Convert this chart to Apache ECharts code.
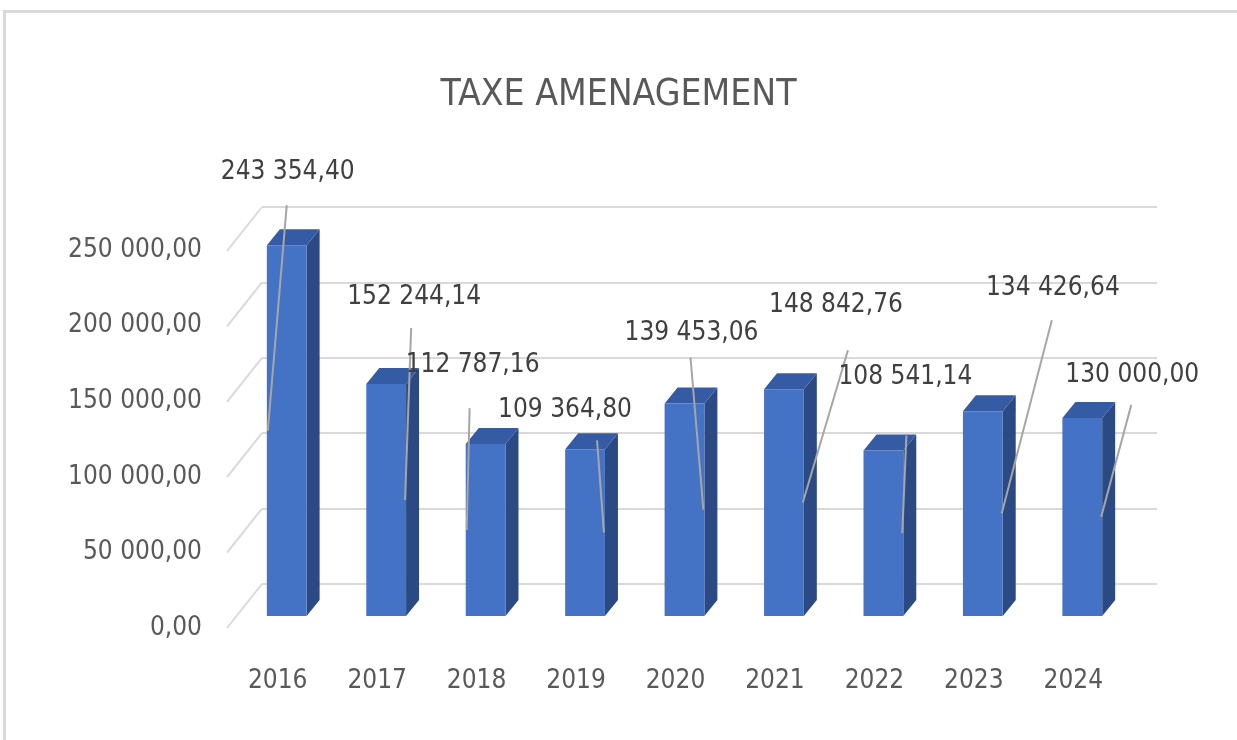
<!DOCTYPE html>
<html>
<head>
<meta charset="utf-8">
<title>TAXE AMENAGEMENT</title>
<script src="https://cdn.jsdelivr.net/npm/echarts@6/dist/echarts.min.js"></script>
<style>
    html, body { margin: 0; padding: 0; background: #fff; }
    #chart { width: 1237px; height: 740px; }
</style>
</head>
<body>
<div id="chart"></div>
<script>
    const years = ['2016', '2017', '2018', '2019', '2020', '2021', '2022', '2023', '2024'];
    const amounts = [243354.40, 152244.14, 112787.16, 109364.80, 139453.06, 148842.76, 108541.14, 134426.64, 130000.00];
    const yTicks = [0, 50000, 100000, 150000, 200000, 250000];

    // placement des étiquettes, en px depuis le haut de la face avant de la barre
    const labelShift = [[1, -73], [28, -87], [-13, -79], [-20, -39], [7, -70], [52, -84], [22, -73], [70, -123], [50, -43]];
    const leaderStart = [[0, -40], [25, -56], [-16, -36], [12, -9], [6, -46], [64, -39], [23, -15], [69, -91], [49, -13]];
    const leaderSide = [-1, 1, -1, 1, 1, 1, 1, 1, 1];

    const font = '"Liberation Sans Narrow", "DejaVu Sans Condensed", "Roboto Condensed", sans-serif';
    const depth = [13, -16];      // profondeur des barres
    const wallShift = [35, -44];  // du plan des libellés vers le fond

    function fmt(v) {
        const parts = Number(v).toFixed(2).split('.');
        return parts[0].replace(/\B(?=(\d{3})+(?!\d))/g, ' ') + ',' + parts[1];
    }

    const chartDom = document.getElementById('chart');
    const myChart = echarts.init(chartDom);

    function renderBar(params, api) {
        const i = api.value(0);
        const top = api.coord([i, api.value(1)]);
        const base = api.coord([i, 0]);
        const w = api.size([1, 0])[0] * 0.4;
        const x0 = top[0] - w / 2;
        const x1 = top[0] + w / 2;
        const dx = depth[0], dy = depth[1];
        return {
            type: 'group',
            children: [
                {
                    type: 'polygon',
                    shape: { points: [[x1, top[1]], [x1 + dx, top[1] + dy], [x1 + dx, base[1] + dy], [x1, base[1]]] },
                    style: { fill: '#2b4a83' }
                },
                {
                    type: 'polygon',
                    shape: { points: [[x0, top[1]], [x0 + dx, top[1] + dy], [x1 + dx, top[1] + dy], [x1, top[1]]] },
                    style: { fill: '#355ba4' }
                },
                {
                    type: 'rect',
                    shape: { x: x0, y: top[1], width: w, height: base[1] - top[1] },
                    style: { fill: '#4472c4' }
                }
            ]
        };
    }

    function renderLabel(params, api) {
        const i = api.value(0);
        const v = api.value(1);
        const top = api.coord([i, v]);
        const mid = api.coord([i, v / 2]);
        const w = api.size([1, 0])[0] * 0.4;
        const endX = mid[0] + leaderSide[i] * (w / 2 - 1);
        return {
            type: 'group',
            children: [
                {
                    type: 'line',
                    shape: {
                        x1: top[0] + leaderStart[i][0], y1: top[1] + leaderStart[i][1],
                        x2: endX, y2: mid[1]
                    },
                    style: { stroke: '#a6a6a6', lineWidth: 2 }
                },
                {
                    type: 'text',
                    style: {
                        text: fmt(v),
                        x: top[0] + labelShift[i][0],
                        y: top[1] + labelShift[i][1],
                        textAlign: 'center',
                        textVerticalAlign: 'middle',
                        fontSize: 26,
                        fontFamily: font,
                        fill: '#404040'
                    }
                }
            ]
        };
    }

    function renderWallEdge(params, api) {
        const p = api.coord([0, api.value(1)]);
        const x = params.coordSys.x;
        return {
            type: 'line',
            shape: { x1: x, y1: p[1], x2: x - wallShift[0], y2: p[1] - wallShift[1] },
            style: { stroke: '#d9d9d9', lineWidth: 2 }
        };
    }

    const barData = amounts.map((v, i) => [i, v]);

    let option = {
        animation: false,
        title: {
            text: 'TAXE AMENAGEMENT',
            left: 'center',
            top: 72,
            textStyle: {
                fontFamily: font,
                fontSize: 37,
                fontWeight: 'normal',
                color: '#595959'
            }
        },
        graphic: [
            {
                type: 'rect',
                shape: { x: 4.5, y: 11.5, width: 1400, height: 900 },
                style: { fill: 'none', stroke: '#d9d9d9', lineWidth: 3 },
                silent: true
            }
        ],
        grid: [
            // plan des barres
            { left: 237, top: 235, width: 895, height: 381 },
            // plan des libellés d'axes
            { left: 228, top: 250, width: 895, height: 378 },
            // paroi du fond
            { left: 262, top: 207, width: 895, height: 377 }
        ],
        xAxis: [
            { gridIndex: 0, type: 'category', data: years, show: false },
            {
                gridIndex: 1,
                type: 'category',
                data: years,
                axisLine: { show: false },
                axisTick: { show: false },
                axisLabel: { fontFamily: font, fontSize: 26, color: '#595959', margin: 40 }
            },
            { gridIndex: 2, type: 'category', data: years, show: false }
        ],
        yAxis: [
            { gridIndex: 0, type: 'value', min: 0, max: 250000, interval: 50000, show: false },
            {
                gridIndex: 1,
                type: 'value',
                min: 0,
                max: 250000,
                interval: 50000,
                axisLine: { show: false },
                axisTick: { show: false },
                splitLine: { show: false },
                axisLabel: { fontFamily: font, fontSize: 26, color: '#595959', margin: 26, formatter: fmt }
            },
            {
                gridIndex: 2,
                type: 'value',
                min: 0,
                max: 250000,
                interval: 50000,
                axisLine: { show: false },
                axisTick: { show: false },
                axisLabel: { show: false },
                splitLine: { lineStyle: { color: '#d9d9d9', width: 2 } }
            }
        ],
        series: [
            {
                type: 'custom',
                name: 'parois',
                xAxisIndex: 2,
                yAxisIndex: 2,
                renderItem: renderWallEdge,
                data: yTicks.map(v => [0, v]),
                silent: true
            },
            {
                type: 'custom',
                name: 'Taxe',
                xAxisIndex: 0,
                yAxisIndex: 0,
                renderItem: renderBar,
                data: barData
            },
            {
                type: 'custom',
                name: 'étiquettes',
                xAxisIndex: 0,
                yAxisIndex: 0,
                renderItem: renderLabel,
                data: barData,
                z: 5
            }
        ]
    };

    window.addEventListener('resize', () => {
        myChart.resize()
    })
    option && myChart.setOption(option);
</script>
</body>
</html>
